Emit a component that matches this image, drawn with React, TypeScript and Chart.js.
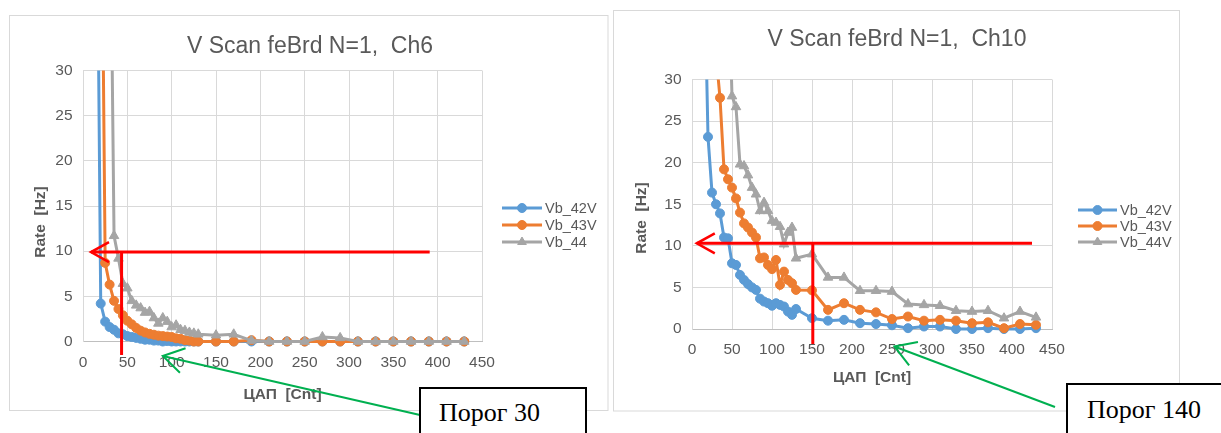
import React, { useEffect, useRef } from 'react';
import { Chart, registerables } from 'chart.js';

Chart.register(...registerables);

// ---------- data ----------
const X_VALUES = [10, 15, 20, 25, 30, 35, 40, 45, 50, 55, 60, 65, 70, 75, 80, 85, 90, 95, 100, 105, 110, 115, 120, 125, 130,
  150, 170, 190, 210, 230, 250, 270, 290, 310, 330, 350, 370, 390, 410, 430];

const X_TICKS = [0, 50, 100, 150, 200, 250, 300, 350, 400, 450];
const Y_TICKS = [0, 5, 10, 15, 20, 25, 30];

// Ch6
const CH6_VB42 = [95, 60, 4.2, 2.2, 1.6, 1.3, 0.9, 0.8, 0.6, 0.5, 0.4, 0.3, 0.2, 0.2, 0.1, 0.1, 0.0, 0.05, 0, 0, 0, 0, 0, 0, 0,
  0, 0, 0, 0, 0, 0, 0, 0, 0, 0, 0, 0, 0, 0, 0];
const CH6_VB43 = [95, 80, 62, 8.7, 6.3, 4.5, 3.6, 2.9, 2.3, 1.9, 1.5, 1.2, 1.0, 0.85, 0.75, 0.65, 0.6, 0.55, 0.5, 0.35, 0.3, 0.15, 0.1, 0, 0,
  0, 0, 0.15, 0, 0, 0, 0, 0, 0, 0, 0, 0, 0, 0, 0];
const CH6_VB44 = [null, null, null, 95, 57, 11.7, 9.2, 6.4, 5.9, 4.5, 4.0, 3.7, 3.2, 3.3, 2.6, 2.0, 2.6, 2.2, 1.6, 1.8, 1.3, 1.2, 1.0, 0.9, 0.8,
  0.7, 0.8, 0.1, 0, 0, 0, 0.5, 0.4, 0, 0, 0, 0, 0, 0, 0];

// Ch10
const CH10_VB42 = [90, 46, 23.1, 16.4, 15.0, 13.9, 11.0, 10.9, 7.9, 7.7, 6.5, 5.9, 5.4, 5.0, 4.7, 3.65, 3.3, 3.1, 2.8, 3.1, 2.9, 2.7, 2.1, 1.7, 2.4,
  1.3, 1.0, 1.1, 0.7, 0.6, 0.45, 0.1, 0.3, 0.3, 0.0, 0.0, 0.1, 0.0, 0.0, 0.1];
const CH10_VB43 = [null, null, 90, 60, 33, 27.8, 19.2, 18.0, 17.0, 15.7, 14.0, 12.7, 12.2, 11.6, 11.0, 8.5, 8.6, 7.7, 7.2, 8.3, 5.3, 6.9, 5.9, 5.5, 4.7,
  4.65, 2.3, 3.1, 2.3, 2.0, 1.2, 1.5, 1.0, 1.1, 1.0, 0.7, 0.8, 0.1, 0.6, 0.5];
const CH10_VB44 = [null, null, null, null, null, null, null, 45, 28.0, 26.7, 19.8, 19.6, 18.5, 17.0, 16.2, 14.2, 15.2, 14.2, 13.0, 12.8, 12.3, 10.2, 11.6, 12.2, 8.5,
  9.0, 6.2, 6.2, 4.6, 4.6, 4.5, 3.0, 2.9, 2.8, 2.2, 2.1, 2.2, 1.3, 2.1, 1.4];

const CH6_LABELS = ['Vb_42V', 'Vb_43V', 'Vb_44'];
const CH10_LABELS = ['Vb_42V', 'Vb_43V', 'Vb_44V'];

const CH6_TITLE = 'V Scan feBrd N=1,  Ch6';
const CH10_TITLE = 'V Scan feBrd N=1,  Ch10';
const X_TITLE = 'ЦАП  [Cnt]';
const Y_TITLE = 'Rate  [Hz]';

// threshold annotations (data units)
const CH6_THRESHOLD = { rate: 9.9, xFrom: 9, xTo: 391, dac: 43.5, dacBottom: -1.5, greenTip: [90, -1.6] };
const CH10_THRESHOLD = { rate: 10.3, xFrom: 6, xTo: 425, dac: 151, dacBottom: -1.8, greenTip: [253, -2.1] };

const BOX_LEFT_TEXT = 'Порог 30';
const BOX_RIGHT_TEXT = 'Порог 140';

// ---------- styles ----------
const FONT = "'Liberation Sans', Arial, sans-serif";
const TEXT_COLOR = '#595959';
const COLORS = ['#5B9BD5', '#ED7D31', '#A5A5A5'];
const POINT_STYLES = ['circle', 'circle', 'triangle'];
const RED = '#FF0000';
const GREEN = '#00B050';

type PanelCfg = {
  series: (number | null)[][];
  labels: string[];
  title: string;
  titleX: number;
  titleY: number;
  padding: { left: number; top: number; right: number; bottom: number };
  yWidth: number;
  xHeight: number;
  yTitlePos: [number, number];
  xTitlePad: number;
  xTickPad: number;
  legendLine: [number, number];
  legendTextX: number;
  legendRows: number[];
  frame: [number, number, number, number];
  thr: typeof CH6_THRESHOLD;
  greenTail: [number, number];
};

const LEFT_PANEL: PanelCfg = {
  series: [CH6_VB42, CH6_VB43, CH6_VB44],
  labels: CH6_LABELS,
  title: CH6_TITLE,
  titleX: 310,
  titleY: 47,
  padding: { left: 10, top: 70.5, right: 128, bottom: 0 },
  yWidth: 73,
  xHeight: 91.5,
  yTitlePos: [41, 222],
  xTitlePad: 28.5,
  xTickPad: 12,
  legendLine: [502, 542],
  legendTextX: 545,
  legendRows: [208, 225, 242],
  frame: [9.5, 15.5, 608, 410.5],
  thr: CH6_THRESHOLD,
  greenTail: [420, 415],
};

const RIGHT_PANEL: PanelCfg = {
  series: [CH10_VB42, CH10_VB43, CH10_VB44],
  labels: CH10_LABELS,
  title: CH10_TITLE,
  titleX: 287,
  titleY: 40,
  padding: { left: 10, top: 79.5, right: 169, bottom: 0 },
  yWidth: 72,
  xHeight: 104,
  yTitlePos: [32, 218],
  xTitlePad: 45.5,
  xTickPad: 11,
  legendLine: [468, 507],
  legendTextX: 510,
  legendRows: [210, 226, 242],
  frame: [3.5, 10.5, 569.5, 411],
  thr: CH10_THRESHOLD,
  greenTail: [445, 407],
};

function drawMarker(ctx: CanvasRenderingContext2D, style: string, x: number, y: number, r: number, color: string) {
  ctx.save();
  ctx.fillStyle = color;
  ctx.strokeStyle = color;
  ctx.lineWidth = 1;
  ctx.beginPath();
  if (style === 'triangle') {
    const side = (r * 3) / Math.sqrt(3);
    const h = (side * Math.sqrt(3)) / 2;
    ctx.moveTo(x, y - (2 * h) / 3);
    ctx.lineTo(x + side / 2, y + h / 3);
    ctx.lineTo(x - side / 2, y + h / 3);
    ctx.closePath();
  } else {
    ctx.arc(x, y, r, 0, Math.PI * 2);
  }
  ctx.fill();
  ctx.stroke();
  ctx.restore();
}

function makeChart(canvas: HTMLCanvasElement, cfg: PanelCfg) {
  const datasets = cfg.series.map((vals, i) => ({
    label: cfg.labels[i],
    data: X_VALUES.map((x, j) => ({ x, y: vals[j] })),
    borderColor: COLORS[i],
    backgroundColor: COLORS[i],
    borderWidth: 3,
    pointRadius: i === 2 ? 5.5 : 4.5,
    pointStyle: POINT_STYLES[i],
    pointBorderWidth: 1,
    tension: 0,
    order: 2 - i,
    clip: { left: 8, top: 0, right: 8, bottom: 8 },
  }));

  const panelPlugin = {
    id: 'panelDecor',
    beforeDraw(chart: any) {
      const ctx = chart.ctx as CanvasRenderingContext2D;
      const [x1, y1, x2, y2] = cfg.frame;
      ctx.save();
      ctx.fillStyle = '#ffffff';
      ctx.fillRect(0, 0, chart.width, chart.height);
      ctx.strokeStyle = '#d9d9d9';
      ctx.lineWidth = 1;
      ctx.strokeRect(x1, y1, x2 - x1, y2 - y1);
      ctx.restore();
    },
    afterDraw(chart: any) {
      const ctx = chart.ctx as CanvasRenderingContext2D;
      const xs = chart.scales.x;
      const ys = chart.scales.y;
      ctx.save();
      // title
      ctx.font = `23px ${FONT}`;
      ctx.fillStyle = TEXT_COLOR;
      ctx.textAlign = 'center';
      ctx.textBaseline = 'middle';
      ctx.fillText(cfg.title, cfg.titleX, cfg.titleY);

      // y axis title
      ctx.save();
      ctx.translate(cfg.yTitlePos[0], cfg.yTitlePos[1]);
      ctx.rotate(-Math.PI / 2);
      ctx.font = `bold 15.5px ${FONT}`;
      ctx.fillText(Y_TITLE, 0, 0);
      ctx.restore();

      // legend
      ctx.font = `14.5px ${FONT}`;
      ctx.textAlign = 'left';
      cfg.labels.forEach((label, i) => {
        const y = cfg.legendRows[i];
        ctx.strokeStyle = COLORS[i];
        ctx.lineWidth = 3;
        ctx.beginPath();
        ctx.moveTo(cfg.legendLine[0], y);
        ctx.lineTo(cfg.legendLine[1], y);
        ctx.stroke();
        drawMarker(ctx, POINT_STYLES[i], (cfg.legendLine[0] + cfg.legendLine[1]) / 2, y, i === 2 ? 5 : 4.5, COLORS[i]);
        ctx.fillStyle = TEXT_COLOR;
        ctx.fillText(label, cfg.legendTextX, y + 0.5);
      });

      // red threshold lines
      const t = cfg.thr;
      const yR = ys.getPixelForValue(t.rate);
      const xTip = xs.getPixelForValue(t.xFrom);
      const xEnd = xs.getPixelForValue(t.xTo);
      const xV = xs.getPixelForValue(t.dac);
      const yVb = ys.getPixelForValue(t.dacBottom);
      ctx.strokeStyle = RED;
      ctx.lineWidth = 3;
      ctx.lineCap = 'butt';
      ctx.beginPath();
      ctx.moveTo(xTip, yR);
      ctx.lineTo(xEnd, yR);
      ctx.moveTo(xV, yR);
      ctx.lineTo(xV, yVb);
      ctx.stroke();
      ctx.lineWidth = 2.5;
      ctx.beginPath();
      ctx.moveTo(xTip + 18, yR - 10);
      ctx.lineTo(xTip, yR);
      ctx.lineTo(xTip + 18, yR + 10);
      ctx.stroke();

      // green arrow
      const gx = xs.getPixelForValue(t.greenTip[0]);
      const gy = ys.getPixelForValue(t.greenTip[1]);
      const [tx, ty] = cfg.greenTail;
      ctx.strokeStyle = GREEN;
      ctx.lineWidth = 2;
      ctx.beginPath();
      ctx.moveTo(tx, ty);
      ctx.lineTo(gx, gy);
      ctx.stroke();
      const ang = Math.atan2(ty - gy, tx - gx);
      const L = 24;
      const a = 0.55;
      ctx.beginPath();
      ctx.moveTo(gx + L * Math.cos(ang - a), gy + L * Math.sin(ang - a));
      ctx.lineTo(gx, gy);
      ctx.lineTo(gx + L * Math.cos(ang + a), gy + L * Math.sin(ang + a));
      ctx.stroke();
      ctx.restore();
    },
  };

  const tickFont = { family: FONT, size: 15.5 };
  const titleFont = { family: FONT, size: 15.5, weight: 'bold' as const };

  return new Chart(canvas, {
    type: 'line',
    data: { datasets },
    options: {
      responsive: false,
      maintainAspectRatio: false,
      devicePixelRatio: 1,
      animation: false,
      layout: { padding: cfg.padding },
      plugins: {
        legend: { display: false },
        title: { display: false },
        tooltip: { enabled: false },
      },
      scales: {
        x: {
          type: 'linear',
          min: 0,
          max: 450,
          afterBuildTicks: (scale: any) => {
            scale.ticks = X_TICKS.map((v) => ({ value: v }));
          },
          ticks: { color: TEXT_COLOR, font: tickFont, padding: cfg.xTickPad, maxRotation: 0 },
          grid: { color: '#d9d9d9', drawTicks: false, lineWidth: 1 },
          border: { display: true, color: '#bfbfbf', width: 1 },
          title: { display: true, text: X_TITLE, color: TEXT_COLOR, font: titleFont, padding: { top: 0, bottom: cfg.xTitlePad } },
          afterFit: (scale: any) => {
            scale.height = cfg.xHeight;
          },
        },
        y: {
          type: 'linear',
          min: 0,
          max: 30,
          afterBuildTicks: (scale: any) => {
            scale.ticks = Y_TICKS.map((v) => ({ value: v }));
          },
          ticks: { color: TEXT_COLOR, font: tickFont, padding: 10.5 },
          grid: { color: '#d9d9d9', drawTicks: false, lineWidth: 1 },
          border: { display: true, color: '#d9d9d9', width: 1 },
          title: { display: false, text: Y_TITLE },
          afterFit: (scale: any) => {
            scale.width = cfg.yWidth;
          },
        },
      },
    } as any,
    plugins: [panelPlugin],
  });
}

const boxBase: React.CSSProperties = {
  position: 'absolute',
  border: '2px solid #000',
  background: '#fff',
  boxSizing: 'border-box',
  fontFamily: "'Liberation Serif', 'Times New Roman', serif",
  fontSize: 26,
  color: '#000',
  whiteSpace: 'nowrap',
};

export default function App() {
  const leftRef = useRef<HTMLCanvasElement>(null);
  const rightRef = useRef<HTMLCanvasElement>(null);

  useEffect(() => {
    const c1 = makeChart(leftRef.current!, LEFT_PANEL);
    const c2 = makeChart(rightRef.current!, RIGHT_PANEL);
    return () => {
      c1.destroy();
      c2.destroy();
    };
  }, []);

  return (
    <div style={{ position: 'fixed', left: 0, top: 0, width: 1221, height: 433, overflow: 'hidden', background: '#fff' }}>
      <canvas ref={leftRef} width={610} height={433} style={{ position: 'absolute', left: 0, top: 0 }} />
      <canvas ref={rightRef} width={611} height={433} style={{ position: 'absolute', left: 610, top: 0 }} />
      <div style={{ ...boxBase, left: 419, top: 387, width: 168, height: 60, paddingLeft: 18, lineHeight: '48px' }}>{BOX_LEFT_TEXT}</div>
      <div style={{ ...boxBase, left: 1066, top: 383, width: 200, height: 60, paddingLeft: 19, lineHeight: '50px' }}>{BOX_RIGHT_TEXT}</div>
    </div>
  );
}
